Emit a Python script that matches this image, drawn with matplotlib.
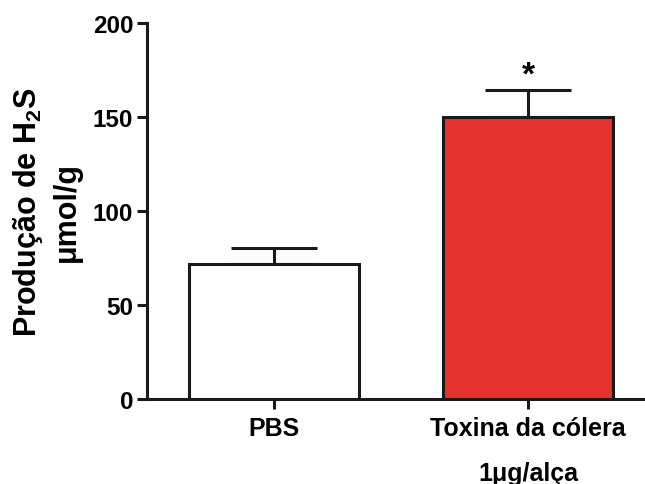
import matplotlib.pyplot as plt

plt.rcParams['font.family'] = ['Liberation Sans', 'DejaVu Sans']
plt.rcParams['font.weight'] = 'bold'
plt.rcParams['mathtext.fontset'] = 'custom'
plt.rcParams['mathtext.rm'] = 'Liberation Sans:bold'
plt.rcParams['mathtext.default'] = 'rm'

grupos = ['PBS', 'Toxina da cólera\n1μg/alça']
medias = [72, 150]
erros = [8.3, 14.3]
cores = ['white', '#E4322F']

fig = plt.figure(figsize=(6.45, 4.85), dpi=100)
ax = fig.add_axes([0.228, 0.175, 0.769, 0.7755])

x = list(range(len(grupos)))
ax.bar(x, medias, width=0.67, color=cores, edgecolor='#1a1a1a', linewidth=2.2, zorder=3)
ax.errorbar(x, medias, yerr=[[0] * len(erros), erros], fmt='none', ecolor='#1a1a1a',
            elinewidth=2.2, capsize=31, capthick=2.2, zorder=2)
ax.text(1, medias[1] + erros[1] + 8, '*', ha='center', va='center', fontsize=24, fontweight='bold')

ax.set_ylim(0, 200)
ax.set_xlim(-0.5, 1.453)
ax.set_yticks([0, 50, 100, 150, 200])
ax.set_xticks(x)
ax.set_xticklabels(grupos, linespacing=2.1, fontsize=18)
ax.set_ylabel('Produção de H$_2$S\nμmol/g', fontsize=22, fontweight='bold',
              labelpad=8, linespacing=1.3)

for lado in ['top', 'right']:
    ax.spines[lado].set_visible(False)
for lado in ['left', 'bottom']:
    ax.spines[lado].set_linewidth(2.2)
    ax.spines[lado].set_color('#1a1a1a')
ax.tick_params(axis='both', width=2.2, length=7, color='#1a1a1a')
ax.tick_params(axis='y', pad=3, labelsize=17.5)
ax.tick_params(axis='x', pad=5)

fig.savefig('out.png', dpi=100)
